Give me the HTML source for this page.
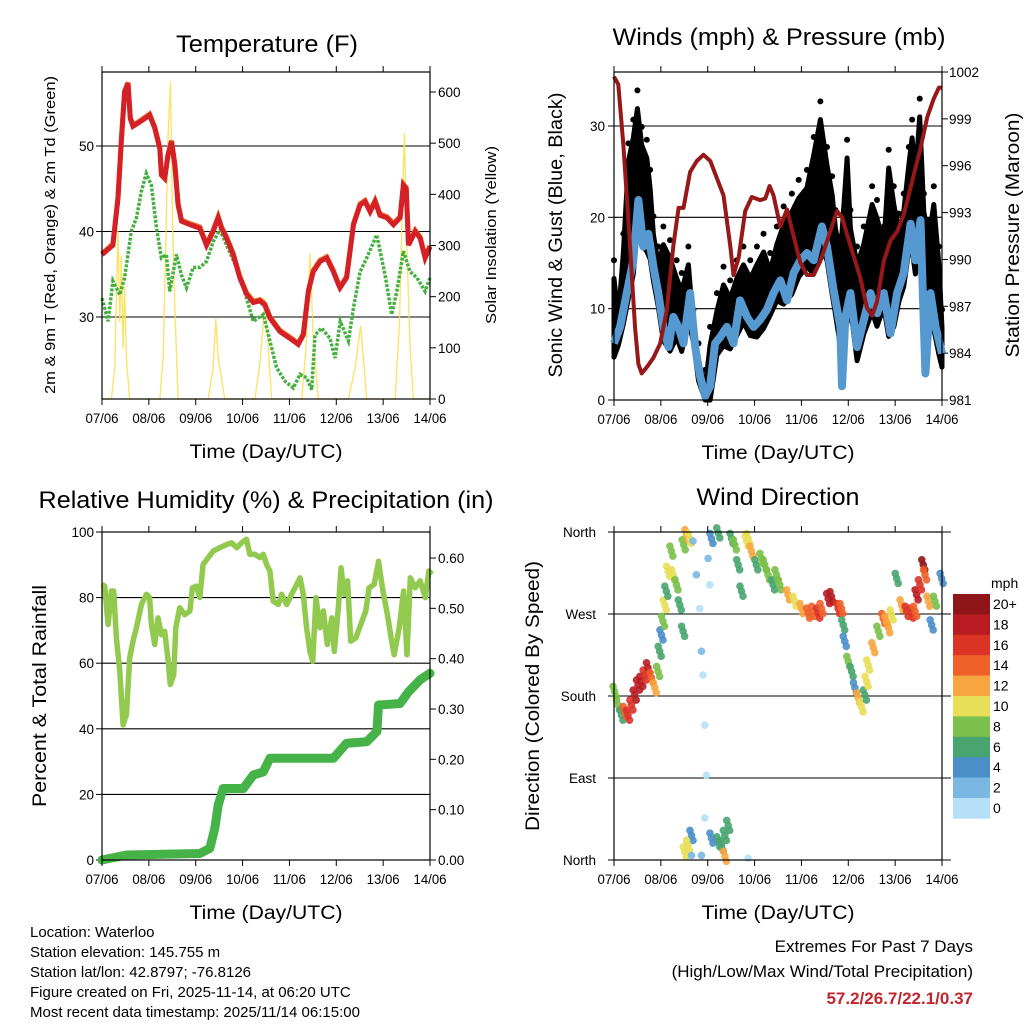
<!DOCTYPE html>
<html><head><meta charset="utf-8"><style>
html,body{margin:0;padding:0;background:#fff;}
svg{display:block;font-family:"Liberation Sans",Arial,sans-serif;}
</style></head><body>
<svg id="c" width="1024" height="1024" viewBox="0 0 1024 1024" xmlns="http://www.w3.org/2000/svg">
<rect width="1024" height="1024" fill="#fff"/>
<g id="p1"></g>
<g id="p2"></g>
<g id="p3"></g>
<g id="p4"></g>
<g font-size="15" fill="#000">
<text x="30" y="937">Location: Waterloo</text>
<text x="30" y="957">Station elevation: 145.755 m</text>
<text x="30" y="977">Station lat/lon: 42.8797; -76.8126</text>
<text x="30" y="997">Figure created on Fri, 2025-11-14, at 06:20 UTC</text>
<text x="30" y="1017">Most recent data timestamp: 2025/11/14 06:15:00</text>
</g>
<g text-anchor="end">
<text x="973" y="952" font-size="17">Extremes For Past 7 Days</text>
<text x="973" y="977" font-size="17">(High/Low/Max Wind/Total Precipitation)</text>
<text x="973" y="1004" font-size="17" font-weight="bold" fill="#c0262d">57.2/26.7/22.1/0.37</text>
</g>
</svg>
<script>
// ---------- DATA ----------
const dayLabels = ["07/06","08/06","09/06","10/06","11/06","12/06","13/06","14/06"];
// Temperature panel
const tempHours = [0,5.6,8.2,9.9,11.6,13.3,14.5,15.9,19.3,24.4,27,29.6,30.4,32.1,33.8,35.6,37.3,39,40.7,45,50.1,53.5,56.9,59.5,61.2,63.8,67.2,70.6,74,77.5,80.9,83.4,86,91.1,96.3,100.5,103.1,105.7,108.2,111.7,115.1,118.5,121.1,121.9,125.3,128.8,132.2,134.7,137.3,139.9,142.4,145.9,149.3,152.7,154.4,155.8,157,160.4,163,165.5,168];
const temp2m = [37.3,38.4,43.9,50.5,56.3,57.3,53.2,52.3,52.8,53.6,52.1,49.7,46.6,46.2,48.9,50.5,47.8,43.1,41.2,40.8,40.4,38.4,40,41.6,40.4,39.2,37.3,34.6,32.7,31.7,31.9,31.4,29.9,28.3,27.5,26.8,27.9,33,35.3,36.5,36.9,35.3,33.8,33.4,34.6,40.8,43.1,43.5,42.3,43.5,41.9,41.6,40.8,41.6,45.4,45,38.4,40,39.2,36.9,38.2];
const dewHours = [0,3.1,5.6,9.1,11.6,15.0,17.6,20.2,22.7,25.3,27.9,30.4,33.0,34.7,38.1,40.7,43.3,46.7,50.1,53.5,56.9,60.4,63.8,68.9,74.0,77.5,82.6,86.0,89.4,93.7,98.0,101.4,104.8,107.4,109.1,112.5,116.8,119.4,122.0,126.2,128.8,132.2,135.6,140.7,145.0,148.4,151.0,154.4,157.8,161.3,165.5,168];
const dewpt = [32.2,29.5,34.2,32.6,34.6,40,41.6,44.7,46.8,45.4,40.4,36.9,37.3,33,37.3,34.9,33.4,35.8,35.8,36.5,38.8,40.2,38.4,35.8,32.2,29.5,30.3,27.2,24.1,22.5,21.7,23.3,22.9,21.5,27.9,28.7,27.5,25.2,29.5,27.2,31.1,35.3,36.9,39.6,34.9,30.3,33,37.7,35.3,34.6,33,34.6];
const solarHours = [0,4.8,6.5,7.4,8.2,9.1,9.9,10.8,11.6,12.5,14.2,29.6,31.3,32.7,33.8,35.1,36.1,37.3,39,54.4,56.9,58.3,59.5,62.9,78.3,80.9,82.6,83.4,85.2,86.9,102.3,104.5,106.6,108.2,110.8,126.2,129.6,132.5,133.9,135.6,150.1,152.4,153.6,154.9,156.1,157.8,159.5,168];
const solar = [0,0,60,200,330,150,280,100,220,80,0,0,80,300,510,620,350,180,0,0,60,157,80,0,0,70,150,196,100,0,0,100,284,120,0,0,60,143,80,0,0,150,350,520,300,100,0,0];
const tempTicks = [30,40,50];
const solarTicks = [0,100,200,300,400,500,600];
// Winds panel
const presHours = [0,2.2,4.8,8.2,10.8,12.5,14.2,16.8,20.2,23.6,27,30.4,33.1,35.6,39,42.4,45.8,49.3,52.7,56.1,59.5,61.2,63.8,67.2,70.6,74.9,77.5,79.7,81.7,85.2,88.6,92,95.4,98.8,102.3,105.7,110.8,114.2,116.8,121.1,126.2,129.6,132.2,134.7,138.2,141.6,145.1,148.5,151.9,154.5,157,160.4,163.8,166.4,168];
const pressure = [1001.7,1001.2,997.3,990.9,985.6,983.3,982.7,983.1,983.7,984.6,986.7,990.9,993.3,993.3,995.6,996.3,996.7,996.3,995.2,994.1,990.9,989,990.1,993.1,994,993.8,993.9,994.7,994.1,992.1,993.2,991.5,989.8,989,989,989.9,991.8,993.1,992.7,990.9,988.8,986.9,986.4,987.3,989.9,991.2,991.8,992.9,994.6,995.9,997.1,999.1,1000.3,1001,1001];
const windHours = [0,3.1,6.5,9.9,12.5,15.0,17.6,20.2,22.7,25.3,27.9,30.4,33.0,35.6,39.0,41.6,44.1,46.7,49.2,51.8,54.4,57.8,61.2,64.6,68.1,71.5,74.9,78.3,81.7,85.2,88.6,92,95.4,98.8,102.3,106.5,109.1,112.5,115.9,116.8,118.5,121.1,124.5,128,131.4,134.8,138.2,141.6,145.0,148.4,151.9,154.4,157,159.5,162.1,164.7,168];
const wind = [6.2,8,11.7,15.3,21.9,16.8,18.2,14.6,11.7,8,5.8,9.1,8,6.2,11.7,5.8,2.6,0.4,1.5,6.2,6.9,8,6.2,10.9,9.1,8,8.8,9.9,11.7,13.1,10.9,13.9,15.3,16.1,15.3,19,16.8,12,8,1.5,9.1,11.7,5.8,8.8,11.7,9.5,11.7,7.3,11.7,13.9,19.3,15.3,19.7,2.9,11.7,8,5.1];
const gustHours = [0,2.2,4.8,7.4,9.9,12.0,14.2,16.8,18.5,20.2,22.7,25.3,28.7,32.1,34.7,38.1,40.7,43.3,46.7,49.2,52.7,56.1,59.5,62.9,66.3,69.8,73.2,76.6,80,83.4,86.9,91.1,94.6,98.8,102.3,105.7,109.1,111.7,113.4,116,119.4,121.1,124.5,127.9,132.2,134.7,138.2,140.7,143.3,145.9,148.4,151,152.7,154.4,156.6,158.7,161.3,163.8,166.4,168];
const gust = [15.3,10.9,18.2,28.1,30.7,33.9,29.9,28.5,25.2,20.1,16.8,19,17.5,15.3,13.9,16.8,9.9,6.2,3.3,8,11.7,14.6,13.1,15.3,16.8,15.3,16.8,18.2,16.1,19,21.2,22.6,24.1,25.2,28.8,32.7,27.7,24.5,20.8,17.9,28.5,20.8,16.8,19,23.4,21.9,19,27.4,23.4,20.4,22.6,27.7,30.7,26.3,33,22.6,19.7,23.4,16.8,9.9];
const windTicks = [0,10,20,30];
const presTicks = [981,984,987,990,993,996,999,1002];
// Humidity panel
const rhHours = [0,1.4,3.1,4.8,6,7.4,9.1,10.8,12.5,14.2,15.9,17.6,20.2,22.8,24.4,25.3,27,28.7,30.4,32.1,33.9,35,36.7,37.8,39.8,42.4,45,46.3,48.4,50.1,51.8,54.4,57,60.4,63.8,66.4,69,71.5,74,75.7,78.3,80.9,82.6,84.3,86,87.7,90.3,92,94.6,97.1,99.7,101.4,103.1,104.8,106.5,107.9,109.6,111.6,113.4,115.4,117.7,119,121.2,122.4,124.1,125.8,127.4,130,132.5,135.1,136.8,139.4,141.6,143.6,146.2,148.4,149.6,152.2,154.5,156.2,157.9,160.4,163,165.6,167.4,169];
const rh = [84,83.5,71.8,82,82,67.7,57.5,41.2,44.3,61.6,66.7,70.8,77.9,81,80,71.8,65.7,73.8,68.7,69.7,60.6,53.5,56.5,70.8,76.9,74.8,75.9,83,83.5,80,90.1,92.2,94.2,95.2,96.2,96.7,95.2,96.7,97.8,93.2,93.2,92.2,93.2,90.1,88.1,78.9,77.9,81,77.9,81,84,86,81,70.8,63.6,60.6,80,70.8,75.9,65.7,73.8,63.6,77.9,89.1,81,85.1,66.7,67.7,71.8,75.9,83,84,91.1,83,74.8,66.7,62.6,70.8,82,62.6,86,83,85.1,80,88.1,87.1];
const rainHours = [0,12.5,50.1,55.2,57.8,59.5,62.1,72.4,77.5,82.6,86,118.5,125.3,135.6,140.8,141.6,152.7,157,163,168];
const rain = [0,0.01,0.013,0.023,0.063,0.109,0.142,0.142,0.169,0.175,0.202,0.202,0.232,0.235,0.255,0.308,0.311,0.334,0.358,0.371];
const rhTicks = [0,20,40,60,80,100];
const rainTicks = [0,0.1,0.2,0.3,0.4,0.5,0.6];
const rainTickLabels = ["0.00","0.10","0.20","0.30","0.40","0.50","0.60"];
// Wind direction panel
const dirHours = [0.3,2.1,3.8,5.5,7.2,8.9,10.6,12.3,14,15.7,17.4,19.2,20.9,22.6,23.4,24.3,25.1,26,26.8,27.7,29.4,30.3,32,33.7,35.4,35.7,37.1,38.8,40.5,42.2,43.9,44.8,45.6,46.5,47.3,46.5,48.2,49.1,49.9,53.4,55.1,56.8,58.5,53.4,49.9,39.7,37.9,36.2,39.7,44.8,68.7,56.8,60.2,61.9,63.6,65.3,67.9,68.7,70.4,72.9,75.5,77.2,78.9,81.5,83.2,84.9,89.1,92.5,96,99.4,102,104.6,106.3,109.7,111.4,114.8,116.5,117.4,118.2,120,121.7,123.4,125.1,126.8,128.5,129.4,130.2,132.8,135.4,137.9,139.6,140.5,142.2,144.8,147.3,149.9,152.5,154.2,155,156.7,158.4,159.3,161,162.7,164.4,167.8];
const dirDeg = [185,170,159,163,159,170,181,192,196,203,211,200,189,207,229,247,262,280,295,317,339,313,302,280,251,346,357,353,350,313,276,229,203,148,93,46,331,302,353,359,16,27,38,20,24,27,16,9,5,5,2,4,353,346,324,295,350,353,339,324,331,324,313,302,313,302,291,284,276,271,273,271,276,287,289,276,276,258,240,218,207,189,178,168,181,196,214,233,251,265,262,255,269,309,280,273,271,273,291,302,324,313,284,258,284,309,291,284,276];
const dirSpd = [8,8,6,14,16,16,18,18,18,16,18,14,12,8,6,4,8,10,6,10,8,10,8,6,6,8,12,10,2,2,0,2,0,0,0,0,2,0,4,6,6,6,6,6,4,4,10,10,2,2,0,12,6,8,6,6,10,10,12,6,8,8,8,6,8,8,12,10,12,14,14,16,14,18,18,16,14,6,4,8,6,4,12,10,6,10,10,12,8,14,12,12,10,6,12,16,16,14,18,16,20,14,12,4,8,4,16,10,6];
const dirTicks = [0,90,180,270,360];
const dirTickLabels = ["North","East","South","West","North"];
const cbLabels = ["20+","18","16","14","12","10","8","6","4","2","0"];
const cbColors = ["#8e1518","#b81c22","#dc3327","#f06029","#f7a540","#e8df58","#7ac04a","#48a56f","#4a8fc8","#7ab8e3","#b5e0f7"];

// ---------- HELPERS ----------
const NS="http://www.w3.org/2000/svg";
function mk(parent,tag,attrs,txt){const e=document.createElementNS(NS,tag);for(const k in attrs)e.setAttribute(k,attrs[k]);if(txt!==undefined)e.textContent=txt;parent.appendChild(e);return e;}
function lin(d0,d1,r0,r1){return v=>r0+(v-d0)/(d1-d0)*(r1-r0);}
function pathOf(xs,ys,fx,fy){return xs.map((h,i)=>(i?"L":"M")+fx(h).toFixed(1)+","+fy(ys[i]).toFixed(1)).join("");}
function interp(xs,ys,t){if(t<=xs[0])return ys[0];for(let i=1;i<xs.length;i++){if(t<=xs[i]){const f=(t-xs[i-1])/(xs[i]-xs[i-1]);return ys[i-1]+f*(ys[i]-ys[i-1]);}}return ys[ys.length-1];}

function frame(g,L,T,R,B,xs,title,titleX,titleY,titleLen){
  const box=mk(g,"rect",{x:L,y:T,width:R-L,height:B-T,fill:"none",stroke:"#000","stroke-width":1.2});
  
  
  dayLabels.forEach((lab,i)=>{
    const x=xs(i*24);
    const t1=mk(g,"line",{x1:x,y1:B,x2:x,y2:B+6,stroke:"#000"});
    
    
    const t2=mk(g,"line",{x1:x,y1:T,x2:x,y2:T-6,stroke:"#000"});
    
    
    const tl=mk(g,"text",{x:x,y:B+24,"font-size":13.5,"text-anchor":"middle",textLength:33,lengthAdjust:"spacingAndGlyphs"},lab);
    
    
  });
  const xt=mk(g,"text",{x:(L+R)/2,y:B+59,"font-size":19,"text-anchor":"middle",textLength:153,lengthAdjust:"spacingAndGlyphs"},"Time (Day/UTC)");
  
  
  const tt=mk(g,"text",{x:titleX,y:titleY,"font-size":24,"text-anchor":"middle",textLength:titleLen,lengthAdjust:"spacingAndGlyphs"},title);
  
  
}
function grid(g,L,R,y){const l=mk(g,"line",{x1:L,y1:y,x2:R,y2:y,stroke:"#000","stroke-width":1.1});}
function ylab(g,x,y,txt,anchor,name){const t=mk(g,"text",{x:x,y:y+5,"font-size":13.5,"text-anchor":anchor},txt);return t;}
function ytick(g,x1,x2,y){const l=mk(g,"line",{x1:x1,y1:y,x2:x2,y2:y,stroke:"#000"});}
function vtitle(g,x,y,txt,size,len,name){const t=mk(g,"text",{x:x,y:y,"font-size":size,"text-anchor":"middle",transform:`rotate(-90 ${x} ${y})`,textLength:len,lengthAdjust:"spacingAndGlyphs"},txt);}

// ---------- PANEL 1: TEMPERATURE ----------
(function(){
  const g=document.getElementById("p1");
  const L=102,R=430,T=72,B=399;
  const x=lin(0,168,L,R), y=lin(30,50,317,146), ys=lin(0,600,399,92);
  tempTicks.forEach(v=>{grid(g,L,R,y(v));ytick(g,L-6,L,y(v));ylab(g,L-8,y(v),String(v),"end","temp-tick-label");});
  solarTicks.forEach(v=>{ytick(g,R,R+6,ys(v));ylab(g,R+8,ys(v),String(v),"start","solar-tick-label");});
  const so=mk(g,"path",{d:pathOf(solarHours,solar,x,ys),fill:"none",stroke:"#f8e050","stroke-width":1.3,opacity:0.9});
  
  
  const dp=mk(g,"path",{d:pathOf(dewHours,dewpt,x,y),fill:"none",stroke:"#44b040","stroke-width":3.5,"stroke-dasharray":"3 1.5"});
  
  
  const o9=mk(g,"path",{d:pathOf(tempHours,temp2m,x,y),fill:"none",stroke:"#f0702a","stroke-width":5,transform:"translate(0,-1.2)"});
  
  
  const t2=mk(g,"path",{d:pathOf(tempHours,temp2m,x,y),fill:"none",stroke:"#d42127","stroke-width":5});
  
  
  frame(g,L,T,R,B,x,"Temperature (F)",267,52,182);
  vtitle(g,55,235,"2m & 9m T (Red, Orange) & 2m Td (Green)",15,318,"left-axis-title");
  vtitle(g,496,235,"Solar Insolation (Yellow)",15,178,"right-axis-title");
})();

// ---------- PANEL 2: WINDS ----------
(function(){
  const g=document.getElementById("p2");
  const L=614,R=942,T=72,B=400;
  const x=lin(0,168,L,R), y=lin(0,30,400,126), yp=lin(981,1002,400,72);
  windTicks.forEach(v=>{grid(g,L,R,y(v));ytick(g,L-6,L,y(v));ylab(g,L-9,y(v),String(v),"end","wind-tick-label");});
  presTicks.forEach(v=>{ytick(g,R,R+6,yp(v));ylab(g,R+7,yp(v),String(v),"start","pressure-tick-label");});
  let top=gustHours.map((h,i)=>x(h).toFixed(1)+","+y(gust[i]-2).toFixed(1));
  let bot=gustHours.slice().reverse().map(h=>x(h).toFixed(1)+","+y(Math.max(0,interp(windHours,wind,h)-1.5)).toFixed(1));
  const band=mk(g,"polygon",{points:top.concat(bot).join(" "),fill:"#000","stroke":"#000","stroke-width":5,"stroke-linejoin":"round"});
  
  
  gustHours.forEach((h,i)=>{
    const c=mk(g,"circle",{cx:x(h),cy:y(gust[i]),r:3,fill:"#000"});
    
    
  });
  const wl=mk(g,"path",{d:pathOf(windHours,wind,x,y),fill:"none",stroke:"#5599d0","stroke-width":8,"stroke-linejoin":"round"});
  
  
  const pl=mk(g,"path",{d:pathOf(presHours,pressure,x,yp),fill:"none",stroke:"#961818","stroke-width":4,"stroke-linejoin":"round"});
  
  
  frame(g,L,T,R,B,x,"Winds (mph) & Pressure (mb)",779,45,333);
  vtitle(g,562,235,"Sonic Wind & Gust (Blue, Black)",19,285,"left-axis-title");
  vtitle(g,1019,235,"Station Pressure (Maroon)",19,245,"right-axis-title");
})();

// ---------- PANEL 3: HUMIDITY ----------
(function(){
  const g=document.getElementById("p3");
  const L=102,R=430,T=532,B=860;
  const x=lin(0,168,L,R), y=lin(0,100,860,532), yr=lin(0,0.6,860,558);
  rhTicks.forEach(v=>{if(v>0&&v<100)grid(g,L,R,y(v));ytick(g,L-6,L,y(v));ylab(g,L-8,y(v),String(v),"end","rh-tick-label");});
  rainTicks.forEach((v,i)=>{ytick(g,R,R+6,yr(v));ylab(g,R+8,yr(v),rainTickLabels[i],"start","rain-tick-label");});
  const rl=mk(g,"path",{d:pathOf(rhHours,rh,x,y),fill:"none",stroke:"#92c94f","stroke-width":5.5,"stroke-linejoin":"round"});
  
  
  const pr=mk(g,"path",{d:pathOf(rainHours,rain,x,yr),fill:"none",stroke:"#45b347","stroke-width":9,"stroke-linejoin":"round","stroke-linecap":"round"});
  
  
  frame(g,L,T,R,B,x,"Relative Humidity (%) & Precipitation (in)",266,508,455);
  vtitle(g,46,696,"Percent & Total Rainfall",19,222,"left-axis-title");
})();

// ---------- PANEL 4: WIND DIRECTION ----------
(function(){
  const g=document.getElementById("p4");
  const L=614,R=942,T=532,B=860;
  const x=lin(0,168,L,R), y=lin(0,360,860,532);
  dirTicks.forEach((v,i)=>{grid(g,L-6,R+9,y(v));ylab(g,L-18,y(v),dirTickLabels[i],"end","direction-tick-label");});
  function colorFor(s){const idx=Math.min(10,Math.floor(s/2));return cbColors[10-idx];}
  dirHours.forEach((h,i)=>{
    const offs=dirSpd[i]>2?[-5,0,5]:[0];
    offs.forEach(d=>{
      const c=mk(g,"circle",{cx:x(h)+d*0.3,cy:y(dirDeg[i])+d,r:3.8,fill:colorFor(dirSpd[i]),opacity:0.9});
      
      
    });
  });
  frame(g,L,T,R,B,x,"Wind Direction",778,505,163);
  vtitle(g,539,696,"Direction (Colored By Speed)",19,270,"left-axis-title");
  const cb=mk(g,"g",{});
  
  
  const cbT=594,cbH=20.4;
  cbColors.forEach((col,i)=>{
    const r=mk(cb,"rect",{x:953,y:cbT+i*cbH,width:37,height:cbH+0.3,fill:col});
    
    
    const t=mk(cb,"text",{x:993,y:cbT+i*cbH+15,"font-size":14},cbLabels[i]);
    
    
  });
  const u=mk(cb,"text",{x:991,y:588,"font-size":14},"mph");
  
  
})();
</script>
</body></html>
